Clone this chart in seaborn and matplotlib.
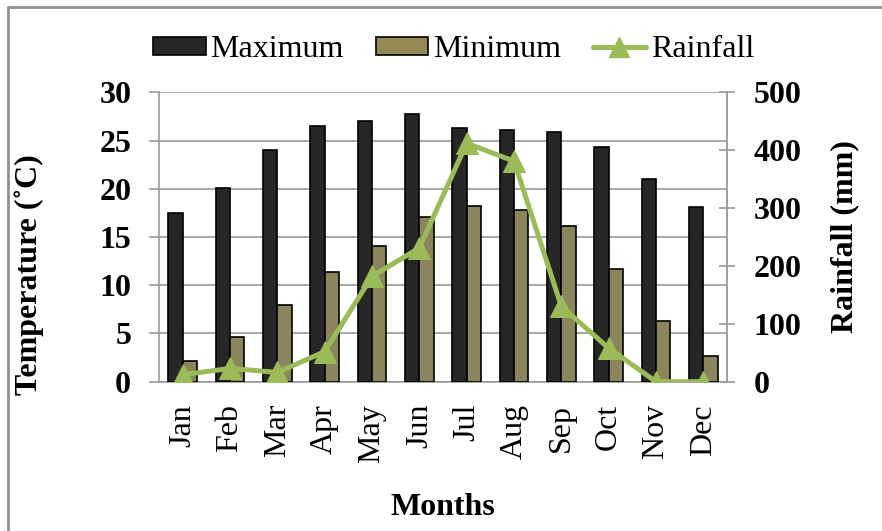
import numpy as np
import pandas as pd
import matplotlib
matplotlib.use("Agg")
import matplotlib.pyplot as plt
import seaborn as sns
from matplotlib.lines import Line2D
from matplotlib.patches import Patch

months = ["Jan", "Feb", "Mar", "Apr", "May", "Jun", "Jul", "Aug", "Sep", "Oct", "Nov", "Dec"]
t_max = [17.5, 20.1, 24.0, 26.5, 27.0, 27.8, 26.3, 26.1, 25.9, 24.3, 21.0, 18.1]
t_min = [2.1, 4.6, 7.9, 11.4, 14.1, 17.1, 18.2, 17.8, 16.1, 11.7, 6.3, 2.7]
rainfall = [12, 23, 16, 52, 182, 231, 412, 381, 130, 58, 0, 0]

c_max = "#262626"
c_min = "#948A54"
c_rain = "#9BBB59"
grid_c = "#A0A0A0"

sns.set_style("white")
plt.rcParams["font.family"] = ["Liberation Serif", "DejaVu Serif"]
plt.rcParams["text.color"] = "black"
plt.rcParams["axes.labelcolor"] = "black"

df = pd.DataFrame({
    "Month": months * 2,
    "Temp": t_max + t_min,
    "Series": ["Maximum"] * 12 + ["Minimum"] * 12,
})

fig = plt.figure(figsize=(8.82, 5.31), dpi=100)
ax = fig.add_axes([0.1803, 0.2812, 0.8243 - 0.1803, 0.8262 - 0.2812])

sns.barplot(data=df, x="Month", y="Temp", hue="Series", order=months,
            palette={"Maximum": c_max, "Minimum": c_min}, width=0.6, gap=0,
            edgecolor="black", linewidth=1.2, legend=False, ax=ax, zorder=3)

ax.set_ylim(0, 30)
ax.set_xlim(-0.5, 11.5)
ax.set_yticks(range(0, 31, 5))
ax.yaxis.grid(True, color=grid_c, linewidth=1.3, zorder=0)
ax.set_axisbelow(True)
ax.spines["top"].set_visible(False)
for s in ["left", "bottom", "right"]:
    ax.spines[s].set_color(grid_c)
    ax.spines[s].set_linewidth(1.3)

ax.set_xticks(range(12))
ax.set_xticklabels(months, rotation=90, fontsize=23)
ax.tick_params(axis="x", which="major", length=0, pad=16, labelcolor="black")
ax.set_xticks(np.arange(-0.5, 12, 1), minor=True)
ax.tick_params(axis="x", which="minor", length=6, color=grid_c, width=1.3)
ax.tick_params(axis="y", length=7, color=grid_c, width=1.3, labelsize=23, pad=13,
               labelcolor="black")
for lab in ax.get_yticklabels():
    lab.set_fontweight("bold")
ax.set_xlabel("Months", fontsize=23, fontweight="bold")
ax.xaxis.set_label_coords(0.5, -0.385)
ax.set_ylabel("Temperature (˚C)", fontsize=23, fontweight="bold")
ax.yaxis.set_label_coords(-0.2025, 0.37)

ax2 = ax.twinx()
sns.lineplot(x=np.arange(12), y=rainfall, color=c_rain, linewidth=3.6,
             marker="^", markersize=16, markeredgecolor=c_rain, ax=ax2, zorder=5)
ax2.set_ylim(0, 500)
ax2.set_xlim(-0.5, 11.5)
ax2.set_yticks(range(0, 501, 100))
ax2.tick_params(axis="y", length=12, direction="inout", color=grid_c, width=1.3,
                labelsize=23, pad=13, labelcolor="black")
for lab in ax2.get_yticklabels():
    lab.set_fontweight("bold")
for s in ["top", "left", "bottom"]:
    ax2.spines[s].set_visible(False)
ax2.spines["right"].set_color(grid_c)
ax2.spines["right"].set_linewidth(1.3)
ax2.set_ylabel("Rainfall (mm)", fontsize=23, fontweight="bold")
ax2.yaxis.set_label_coords(1.181, 0.5)

handles = [
    Patch(facecolor=c_max, edgecolor="black", linewidth=1.2),
    Patch(facecolor=c_min, edgecolor="black", linewidth=1.2),
    Line2D([0], [0], color=c_rain, linewidth=3.6, marker="^", markersize=14),
]
fig.legend(handles, ["Maximum", "Minimum", "Rainfall"], loc="center",
           bbox_to_anchor=(0.514, 0.906), ncol=3, frameon=False, fontsize=23,
           handlelength=1.65, handleheight=0.5, handletextpad=0.15, columnspacing=1.0)

# outer chart frame (top and left edge visible)
fig.add_artist(Line2D([8 / 882, 8 / 882], [0, 1 - 7 / 531], transform=fig.transFigure,
                      color="#909090", linewidth=2))
fig.add_artist(Line2D([8 / 882, 1], [1 - 7 / 531, 1 - 7 / 531], transform=fig.transFigure,
                      color="#909090", linewidth=2))

fig.savefig("out.png", dpi=100)
